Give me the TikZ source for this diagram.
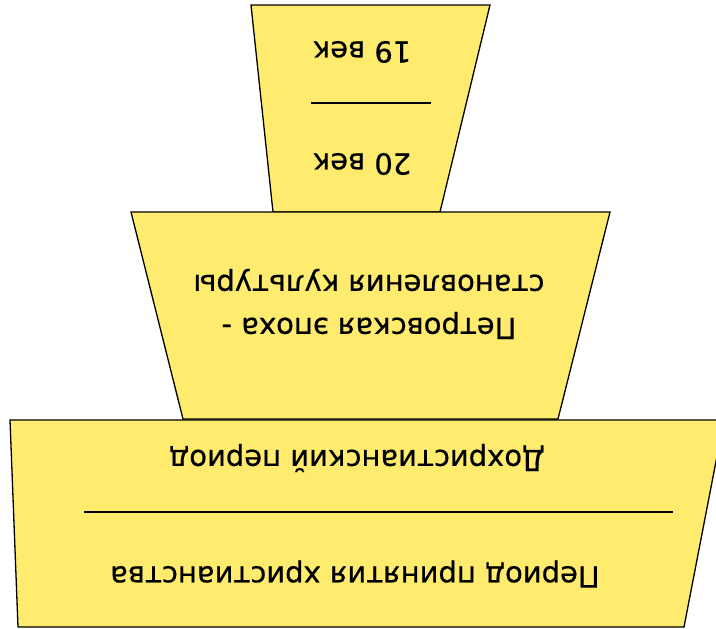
\documentclass[tikz,border=0pt]{standalone}
\usepackage{fontspec}
\setmainfont{DejaVu Sans}
\newfontfamily\lblfont{DejaVu Sans}[FakeBold=0.6]
\definecolor{tierfill}{RGB}{255,236,110}
\begin{document}
\begin{tikzpicture}[x=1pt,y=-1pt,
  tier/.style={fill=tierfill,draw=black,line width=1.3pt,line join=miter},
  sep/.style={draw=black,line width=1.3pt},
  lbl/.style={rotate=180,font=\lblfont\fontsize{29}{43}\selectfont,align=center,inner sep=0pt}]
\useasboundingbox (0,0) rectangle (716,629);
\begin{scope}
\clip (0,0) rectangle (716,629);
% top tier
\draw[tier] (251,5) -- (490,5) -- (440,212) -- (273,212) -- cycle;
% middle tier
\draw[tier] (131,212) -- (610,212) -- (558,419) -- (183,419) -- cycle;
% bottom tier
\draw[tier] (10,420) -- (724,420) -- (684,627) -- (18,627) -- cycle;
\end{scope}
% labels
\node[lbl] (v19) at (362,52) {19 век};
\node[lbl] (v20) at (362,164) {20 век};
\coordinate (s1a) at (311,103);
\coordinate (s1b) at (431,103);
\draw[sep] (s1a) -- (s1b);
\node[lbl] (petr) at (369,304) {Петровская эпоха -\\становления культуры};
\node[lbl] (doch) at (357,458) {Дохристианский период};
\coordinate (s2a) at (84,512);
\coordinate (s2b) at (673,512);
\draw[sep] (s2a) -- (s2b);
\node[lbl] (prin) at (355,574) {Период принятия христианства};
\end{tikzpicture}
\end{document}
